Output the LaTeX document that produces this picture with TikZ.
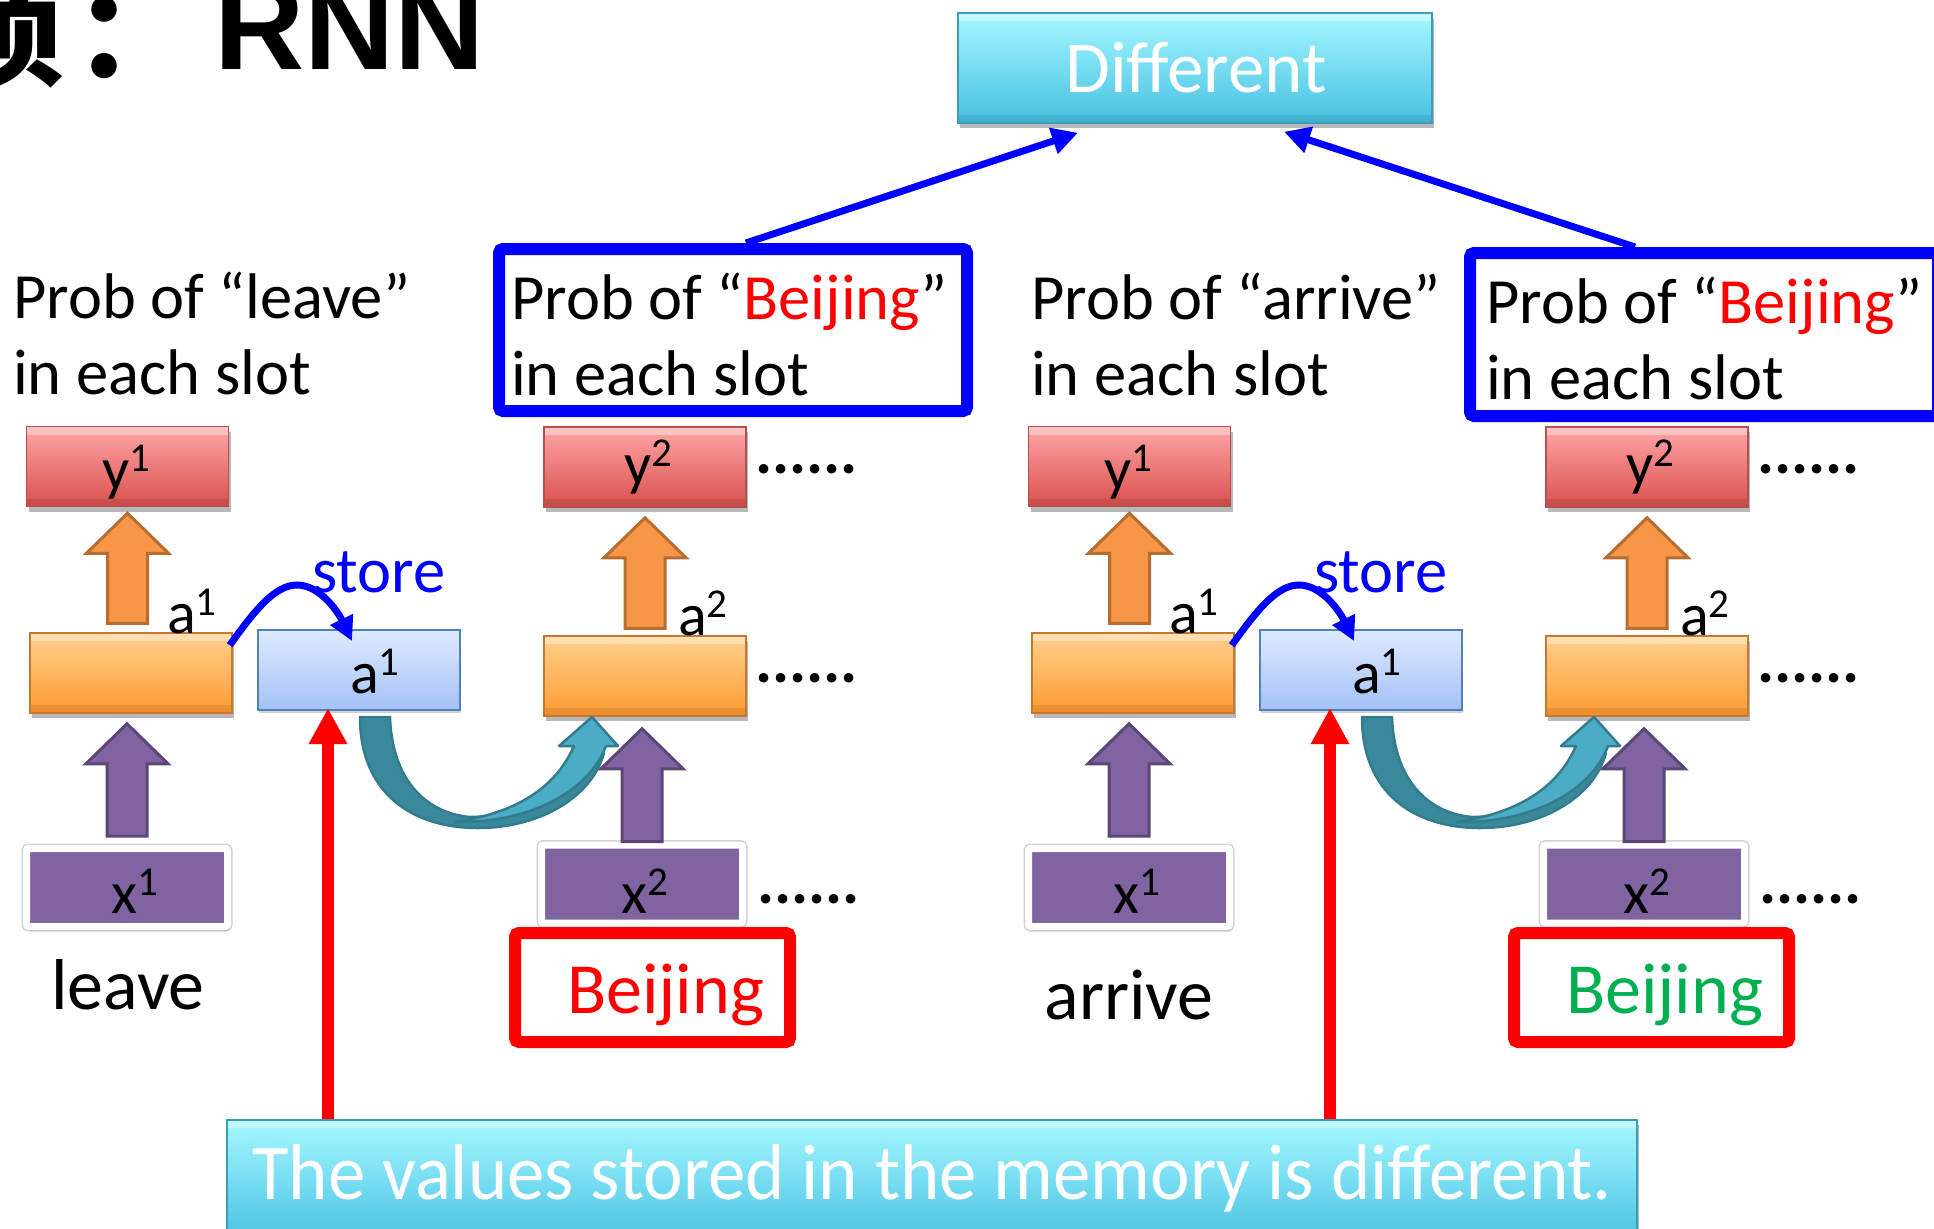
\documentclass[tikz,border=0pt]{standalone}
\usepackage{fontspec}
\usepackage{graphicx}
\setmainfont{Carlito}
\newfontfamily\headfont{Liberation Sans}
\newfontfamily\cjkfont{Noto Sans CJK SC}
\usetikzlibrary{arrows.meta,shadows,calc}

% palette
\definecolor{pureblue}{HTML}{0000FF}
\definecolor{purered}{HTML}{FF0000}
\definecolor{bjgreen}{HTML}{00B050}
\definecolor{redtop}{HTML}{FFA6A6}
\definecolor{redbot}{HTML}{D9504E}
\definecolor{redline}{HTML}{B5504D}
\definecolor{orgtop}{HTML}{FFD08E}
\definecolor{orgbot}{HTML}{FF9A30}
\definecolor{orgline}{HTML}{C9772E}
\definecolor{memtop}{HTML}{DFE9FF}
\definecolor{membot}{HTML}{A3C2F7}
\definecolor{memline}{HTML}{4F81BD}
\definecolor{cyantop}{HTML}{A6F8FF}
\definecolor{cyanbot}{HTML}{46C0E2}
\definecolor{cyanline}{HTML}{3A9DBA}
\definecolor{purp}{HTML}{8064A2}
\definecolor{purpline}{HTML}{5C4677}
\definecolor{arrorange}{HTML}{F79646}
\definecolor{arrorangeline}{HTML}{B66D31}
\definecolor{tealdark}{HTML}{3A889B}
\definecolor{teallight}{HTML}{4BACC6}
\definecolor{tealline}{HTML}{337C8E}

% type sizes
\newcommand\lblfont{\fontsize{60}{72}\selectfont}
\newcommand\probfont{\fontsize{64.5}{76}\selectfont}
\newcommand\wordfont{\fontsize{72}{86}\selectfont}
\newcommand\dotfont{\fontsize{64}{76}\selectfont\bfseries}
\newcommand\supnum[2]{#1\raisebox{18pt}{\fontsize{41}{48}\selectfont #2}}

% vertical block arrow: #2 gives the axis, #3 the foot, #4 the tip
\newcommand\blockarrow[4]{%
  \path[#1] let \p1=(#2), \p2=(#3), \p3=(#4) in
    (\x1-20pt,\y2) -- (\x1-20pt,\y3-40pt) -- (\x1-41pt,\y3-40pt) -- (\x1,\y3)
    -- (\x1+41pt,\y3-40pt) -- (\x1+20pt,\y3-40pt) -- (\x1+20pt,\y2) -- cycle;}

\begin{document}
\begin{tikzpicture}[x=1pt,y=-1pt,
  txt/.style={inner sep=0pt, anchor=base west},
  ctxt/.style={inner sep=0pt, anchor=base},
  shadowed/.style={drop shadow={shadow xshift=2pt,shadow yshift=-5pt,opacity=.28,fill=black}},
  bevel/.style={path picture={
      \fill[white,opacity=.35] (path picture bounding box.north west) rectangle ([yshift=-8pt]path picture bounding box.north east);
      \fill[black,opacity=.08] (path picture bounding box.south west) rectangle ([yshift=8pt]path picture bounding box.south east);}},
  cell/.style={rectangle, inner sep=0pt, line width=1.5pt, minimum width=202pt, minimum height=80pt, shadowed, bevel},
  outcell/.style={cell, draw=redline, top color=redtop, bottom color=redbot},
  hidcell/.style={cell, draw=orgline, top color=orgtop, bottom color=orgbot},
  memcell/.style={rectangle, inner sep=0pt, line width=2pt, minimum width=202pt, minimum height=80pt,
      draw=memline, top color=memtop, bottom color=membot,
      drop shadow={shadow xshift=1pt,shadow yshift=-3pt,opacity=.18,fill=black}},
  incell/.style={rectangle, inner sep=0pt, fill=purp, draw=white, line width=7pt, rounded corners=2pt,
      minimum width=201pt, minimum height=78pt,
      preaction={draw=black!18, line width=10pt},
      drop shadow={shadow xshift=2pt,shadow yshift=-4pt,opacity=.15,fill=black}},
  cyanpanel/.style={rectangle, inner sep=0pt, line width=1.5pt, draw=cyanline, top color=cyantop, bottom color=cyanbot, shadowed, bevel},
  probbox/.style={rectangle, draw=pureblue, line width=12pt, rounded corners=4pt, inner sep=0pt},
  wordbox/.style={rectangle, draw=purered, line width=12pt, rounded corners=4pt, inner sep=0pt,
      minimum width=275pt, minimum height=109pt},
  bluearr/.style={draw=pureblue, line width=7pt, -{Triangle[length=26pt,width=26pt]}},
  redarr/.style={draw=purered, line width=12pt, -{Triangle[length=36pt,width=36pt]}},
  storearr/.style={draw=pureblue, line width=7pt, -{Triangle[length=24pt,width=24pt]}},
  orangeblock/.style={fill=arrorange, draw=arrorangeline, line width=3pt},
  purpleblock/.style={fill=purp, draw=purpline, line width=3pt},
  tealback/.style={fill=tealdark, draw=tealline, line width=2.5pt, line join=round},
  tealfront/.style={fill=teallight, draw=tealline, line width=2.5pt, line join=round}
]
\useasboundingbox (0,0) rectangle (1934,1228);

% heading, partly outside the page
\node[txt] (headcjk) at (-56,78) {\cjkfont\bfseries\fontsize{120}{140}\selectfont 项\hspace{10pt}：};
\node[txt] (headrnn) at (214,70) {\headfont\bfseries\fontsize{125}{145}\selectfont RNN};

% two unrolled copies of the network
\foreach \g/\dx/\bx/\bc in {L/0/0/purered, R/1002/999/bjgreen}{
  \node[outcell] (yA\g) at (\dx+127.5,466.5) {};
  \node[outcell] (yB\g) at (\dx+645,467) {};
  \node[hidcell] (hA\g) at (\dx+131,673) {};
  \node[memcell] (mem\g) at (\dx+359,670) {};
  \node[hidcell] (hB\g) at (\dx+645,676) {};
  \node[incell] (xA\g) at (\dx+127,887.5) {};
  \node[incell] (xB\g) at (\dx+642,884) {};

  \node[ctxt] (yAl\g) at (\dx+126,489) {\lblfont\supnum{y}{1}};
  \node[ctxt] (yBl\g) at (\dx+648,484) {\lblfont\supnum{y}{2}};
  \node[txt] (hAl\g) at (\dx+167,633) {\lblfont\supnum{a}{1}};
  \node[txt] (hBl\g) at (\dx+678,635) {\lblfont\supnum{a}{2}};
  \node[txt] (meml\g) at (\dx+350,693) {\lblfont\supnum{a}{1}};
  \node[ctxt] (xAl\g) at (\dx+135,913) {\lblfont\supnum{x}{1}};
  \node[ctxt] (xBl\g) at (\dx+645,913) {\lblfont\supnum{x}{2}};

  \node[txt] (dotsY\g) at (\dx+755,473) {\dotfont......};
  \node[txt] (dotsH\g) at (\dx+755,682) {\dotfont......};
  \node[txt] (dotsX\g) at (\dx+757,903) {\dotfont......};

  % feed-forward block arrows
  \blockarrow{orangeblock}{yA\g.south}{[yshift=9pt]hA\g.north}{[yshift=-6pt]yA\g.south}
  \blockarrow{orangeblock}{yB\g.south}{[yshift=7pt]hB\g.north}{[yshift=-10pt]yB\g.south}
  \blockarrow{purpleblock}{xA\g.north}{[yshift=9pt]xA\g.north}{[yshift=-10pt]hA\g.south}
  \blockarrow{purpleblock}{xB\g.north}{xB\g.north}{[yshift=-12pt]hB\g.south}

  % hidden state copied into memory
  \draw[storearr] ([xshift=-3pt,yshift=-13pt]hA\g.north east)
      .. controls (\dx+255,610) and (\dx+275,585) .. (\dx+297,585)
      .. controls (\dx+320,585) and (\dx+338,612) .. ([xshift=-7pt,yshift=-12pt]mem\g.north);
  \node[txt, text=pureblue] (store\g) at (\dx+312,592) {\probfont store};

  % memory fed into the next step
  \begin{scope}[shift={(mem\g.south)}]
    \path[tealback] (1,6) .. controls (1,82) and (53,117) .. (119,117)
        .. controls (181,117) and (233,86) .. (245,42) -- (221,38)
        .. controls (196,86) and (151,106) .. (111,106)
        .. controls (66,102) and (33,68) .. (31,6) -- cycle;
    \path[tealfront] (96,111) .. controls (169,112) and (229,82) .. (247,35) -- (259,35)
        -- (233,6) -- (200,35) -- (215,35)
        .. controls (196,78) and (156,102) .. (96,111) -- cycle;
  \end{scope}
  \coordinate (tap\g) at ([xshift=-31pt,yshift=3pt]mem\g.south);

  % second input word
  \node[wordbox] (bjbox\g) at (\bx+652.5,987.5) {};
  \node[txt, text=\bc] (bj\g) at (\bx+567,1013) {\wordfont Beijing};
}

% first input words
\node[ctxt] (leave) at (128,1009) {\wordfont leave};
\node[ctxt] (arrive) at (1129,1019) {\wordfont arrive};

% output descriptions
\node[txt] (probleave) at (13,318) {\probfont\vtop{\hbox{Prob of “leave”}\hbox{in each slot}}};
\node[txt] (probarrive) at (1031,319) {\probfont\vtop{\hbox{Prob of “arrive”}\hbox{in each slot}}};
\node[probbox, minimum width=468pt, minimum height=162pt] (probL) at (733,330) {};
\node[probbox, minimum width=468pt, minimum height=163pt] (probR) at (1704,334.5) {};
\node[txt] (probLt) at (511,319) {\probfont\vtop{\hbox{Prob of “\textcolor{purered}{Beijing}”}\hbox{in each slot}}};
\node[txt] (probRt) at (1486,323) {\probfont\vtop{\hbox{Prob of “\textcolor{purered}{Beijing}”}\hbox{in each slot}}};

% comparison on top
\node[cyanpanel, minimum width=474pt, minimum height=110pt] (diff) at (1195,68) {};
\node[ctxt, text=white] (difftext) at (1196,93) {\fontsize{73}{88}\selectfont Different};
\draw[bluearr] ([xshift=13pt]probL.north) -- ([xshift=-117pt,yshift=-9pt]diff.south);
\draw[bluearr] ([xshift=-69pt]probR.north) -- ([xshift=89pt,yshift=-8pt]diff.south);

% note at the bottom
\node[cyanpanel, minimum width=1410pt, minimum height=124pt] (memo) at (932,1182) {};
\node[ctxt, text=white] (memotext) at (932,1199) {\scalebox{0.948}[1]{\fontsize{79}{95}\selectfont The values stored in the memory is different.}};
\draw[redarr] (tapL |- memo.north) -- (tapL);
\draw[redarr] (tapR |- memo.north) -- (tapR);
\end{tikzpicture}
\end{document}
